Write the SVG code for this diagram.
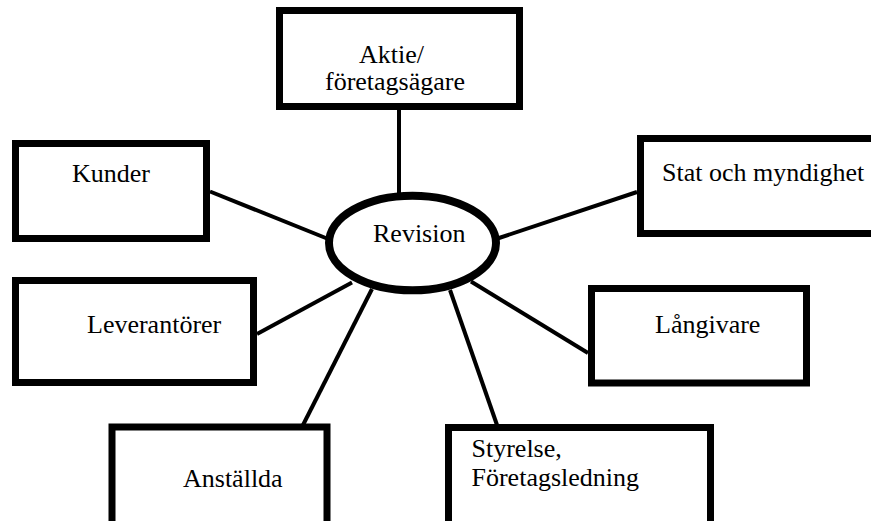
<svg xmlns="http://www.w3.org/2000/svg" width="871" height="521" viewBox="0 0 871 521">
<style>
.box{fill:#fff;stroke:#000;stroke-width:7}
.oval{fill:#fff;stroke:#000;stroke-width:8}
text{font-family:'Liberation Serif','Times New Roman',Tinos,'DejaVu Serif',serif;font-size:26px;fill:#000}
.conn line{stroke:#000;stroke-width:4}
</style>
<rect width="871" height="521" fill="#fff"/>
<g id="connectors" class="conn">
<line x1="399" y1="110" x2="399" y2="203"/>
<line x1="210" y1="191.5" x2="327" y2="238.5"/>
<line x1="496" y1="239" x2="637" y2="192"/>
<line x1="257" y1="334" x2="352" y2="282.5"/>
<line x1="471" y1="281.5" x2="588" y2="353"/>
<line x1="303" y1="425" x2="372" y2="289"/>
<line x1="497" y1="425" x2="450" y2="290"/>
</g>
<g id="aktie">
<rect class="box" x="279.5" y="10.5" width="240" height="96"/>
<text x="359" y="63">Aktie/</text>
<text x="325" y="90">företagsägare</text>
</g>
<g id="kunder">
<rect class="box" x="15.5" y="143.5" width="191" height="95"/>
<text x="72" y="182">Kunder</text>
</g>
<g id="stat">
<rect class="box" x="640.5" y="138.5" width="260" height="95"/>
<text x="662" y="181">Stat och myndighet</text>
</g>
<g id="leverantorer">
<rect class="box" x="15.5" y="280.5" width="238" height="102"/>
<text x="87" y="333">Leverantörer</text>
</g>
<g id="langivare">
<rect class="box" x="591.5" y="288.5" width="215" height="94.5"/>
<text x="655" y="333">Långivare</text>
</g>
<g id="anstallda">
<rect class="box" x="112" y="427" width="215" height="100"/>
<text x="183" y="487">Anställda</text>
</g>
<g id="styrelse">
<rect class="box" x="448.5" y="427.5" width="262" height="100"/>
<text x="471.5" y="457">Styrelse,</text>
<text x="471.5" y="486">Företagsledning</text>
</g>
<g id="revision">
<ellipse class="oval" cx="412.5" cy="243" rx="83.5" ry="47.3"/>
<text x="373" y="242">Revision</text>
</g>
</svg>
